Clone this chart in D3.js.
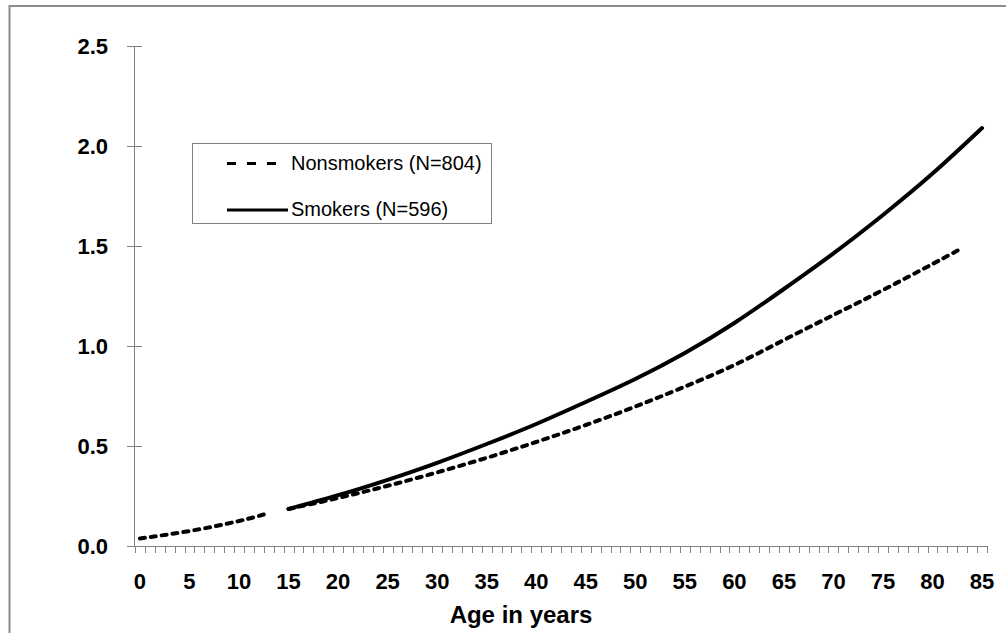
<!DOCTYPE html>
<html>
<head>
<meta charset="utf-8">
<script src="https://cdn.jsdelivr.net/npm/d3@7"></script>
<style>
  html, body { margin: 0; padding: 0; background: #fff; }
  svg { display: block; font-family: "Liberation Sans", Arial, sans-serif; }
</style>
</head>
<body>
<svg id="chart" width="1006" height="633"></svg>
<script>
// ---- data ----
const categories = d3.range(0, 86);              // ages 0..85 (category axis)
const xTickLabels = d3.range(0, 86, 5);          // 0,5,...,85
const yTickValues = [0, 0.5, 1.0, 1.5, 2.0, 2.5];

const nonsmokerAges   = [0, 5, 10, 13, 14, 15, 20, 25, 30, 35, 40, 45, 50, 55, 60, 65, 70, 75, 80, 83];
const nonsmokerValues = [0.038, 0.075, 0.125, 0.165, null, 0.185, 0.24, 0.301, 0.368, 0.441, 0.52, 0.605, 0.697, 0.797, 0.905, 1.03, 1.155, 1.28, 1.41, 1.49];

const smokerAges   = [15, 20, 25, 30, 35, 40, 45, 50, 55, 60, 65, 70, 75, 80, 85];
const smokerValues = [0.185, 0.254, 0.331, 0.416, 0.51, 0.61, 0.72, 0.835, 0.965, 1.115, 1.285, 1.463, 1.655, 1.862, 2.09];

const seriesNames = ["Nonsmokers (N=804)", "Smokers (N=596)"];

// ---- layout ----
const svg = d3.select("#chart");
const axisColor = "#808080";

// outer frame
svg.append("rect")
  .attr("x", 9.5).attr("y", 6).attr("width", 1010).attr("height", 640)
  .attr("fill", "none").attr("stroke", "#8c8c8c").attr("stroke-width", 2);

const x = d3.scaleLinear().domain([-0.5, 85.5]).range([135, 987]);
const y = d3.scaleLinear().domain([0, 2.5]).range([546, 46]);

// y axis
const yAxisG = svg.append("g");
yAxisG.append("line")
  .attr("x1", 134.5).attr("x2", 134.5).attr("y1", y(2.5)).attr("y2", y(0))
  .attr("stroke", axisColor).attr("stroke-width", 1);
yAxisG.selectAll("line.tick").data(yTickValues).join("line")
  .attr("class", "tick")
  .attr("x1", 127).attr("x2", 142)
  .attr("y1", d => Math.round(y(d)) + 0.5).attr("y2", d => Math.round(y(d)) + 0.5)
  .attr("stroke", axisColor).attr("stroke-width", 1);
yAxisG.selectAll("text").data(yTickValues).join("text")
  .attr("x", 108).attr("y", d => y(d) + 8)
  .attr("text-anchor", "end")
  .attr("font-size", 22).attr("font-weight", "bold").attr("fill", "#000")
  .text(d => d3.format(".1f")(d));

// x axis
const xAxisG = svg.append("g");
xAxisG.append("line")
  .attr("x1", 127).attr("x2", x(85.5)).attr("y1", 546.5).attr("y2", 546.5)
  .attr("stroke", axisColor).attr("stroke-width", 1);
const boundaries = categories.map(c => c - 0.5).concat([85.5]);
xAxisG.selectAll("line.tick").data(boundaries).join("line")
  .attr("class", "tick")
  .attr("x1", d => Math.round(x(d)) + 0.5).attr("x2", d => Math.round(x(d)) + 0.5)
  .attr("y1", 546).attr("y2", 553)
  .attr("stroke", axisColor).attr("stroke-width", 1);
xAxisG.selectAll("text").data(xTickLabels).join("text")
  .attr("x", d => x(d)).attr("y", 589)
  .attr("text-anchor", "middle")
  .attr("font-size", 22).attr("font-weight", "bold").attr("fill", "#000")
  .text(d => d);

svg.append("text")
  .attr("x", 521).attr("y", 623)
  .attr("text-anchor", "middle")
  .attr("font-size", 24).attr("font-weight", "bold").attr("fill", "#000")
  .text("Age in years");

// lines
const line = d3.line()
  .defined(d => d[1] !== null)
  .x(d => x(d[0])).y(d => y(d[1]))
  .curve(d3.curveNatural);

svg.append("path")
  .datum(nonsmokerAges.map((a, i) => [a, nonsmokerValues[i]]))
  .attr("d", line)
  .attr("fill", "none").attr("stroke", "#000").attr("stroke-width", 4)
  .attr("stroke-linecap", "round").attr("stroke-dasharray", "5,6");

svg.append("path")
  .datum(smokerAges.map((a, i) => [a, smokerValues[i]]))
  .attr("d", line)
  .attr("fill", "none").attr("stroke", "#000").attr("stroke-width", 4)
  .attr("stroke-linecap", "round");

// legend
const lg = svg.append("g");
lg.append("rect")
  .attr("x", 192.5).attr("y", 143.5).attr("width", 299).attr("height", 80)
  .attr("fill", "#fff").attr("stroke", "#808080").attr("stroke-width", 1);
lg.append("line")
  .attr("x1", 227).attr("x2", 277).attr("y1", 163.5).attr("y2", 163.5)
  .attr("stroke", "#000").attr("stroke-width", 3).attr("stroke-dasharray", "9,11");
lg.append("line")
  .attr("x1", 227).attr("x2", 288).attr("y1", 210).attr("y2", 210)
  .attr("stroke", "#000").attr("stroke-width", 3);
lg.selectAll("text").data(seriesNames).join("text")
  .attr("x", 291).attr("y", (d, i) => i === 0 ? 169.5 : 215.5)
  .attr("font-size", 20).attr("fill", "#000")
  .text(d => d);
</script>
</body>
</html>
